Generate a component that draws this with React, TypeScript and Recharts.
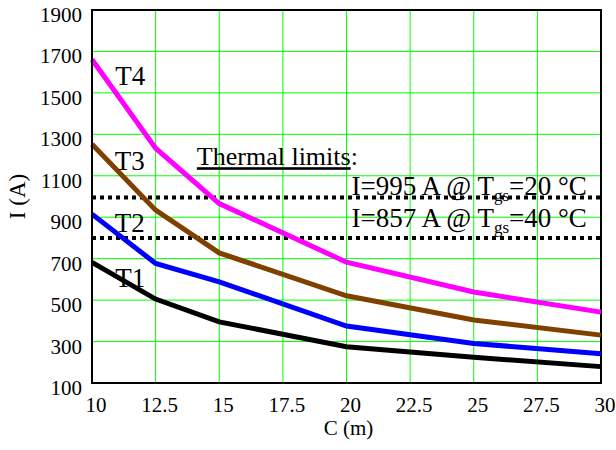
import {
  CartesianGrid,
  Line,
  LineChart,
  ReferenceArea,
  ReferenceDot,
  ReferenceLine,
  XAxis,
  YAxis,
} from "recharts"

const lengths = [10, 12.5, 15, 20, 25, 30]
const t1 = [682, 505, 395, 275, 224, 179]
const t2 = [915, 677, 588, 375, 291, 241]
const t3 = [1252, 934, 728, 521, 404, 331]
const t4 = [1661, 1233, 966, 683, 539, 442]

const xTicks = [10, 12.5, 15, 17.5, 20, 22.5, 25, 27.5, 30]
const yTicks = [100, 300, 500, 700, 900, 1100, 1300, 1500, 1700, 1900]

// drawn positions of the dotted limit lines, and their captions
const limitLines = [995, 800]
const limitTexts = [
  { amps: "995", temp: "20", x: 20.2, y: 1006 },
  { amps: "857", temp: "40", x: 20.2, y: 853 },
]

const seriesLabels = [
  { name: "T4", x: 11.5, y: 1586 },
  { name: "T3", x: 11.48, y: 1175 },
  { name: "T2", x: 11.48, y: 874 },
  { name: "T1", x: 11.5, y: 608 },
]

const data = lengths.map((c, i) => ({ c, t1: t1[i], t2: t2[i], t3: t3[i], t4: t4[i] }))

const FONT = "'Liberation Serif', 'Times New Roman', serif"

function XTick({ x, y, payload }: any) {
  return (
    <text x={x + 4} y={y + 29} textAnchor="middle" fontSize={21} fontFamily={FONT} fill="#000">
      {payload.value}
    </text>
  )
}

function YTick({ x, y, payload }: any) {
  return (
    <text x={x - 10} y={y + 12} textAnchor="end" fontSize={21} fontFamily={FONT} fill="#000">
      {payload.value}
    </text>
  )
}

export default function App() {
  return (
    <div style={{ position: "absolute", left: 0, top: 0, background: "#fff" }}>
      <LineChart width={616} height={450} data={data} margin={{ top: 10, right: 15, bottom: 0, left: 0 }}>
        <CartesianGrid stroke="#00ff00" strokeWidth={1} />
        <XAxis
          dataKey="c"
          type="number"
          domain={[10, 30]}
          ticks={xTicks}
          height={67}
          tickSize={0}
          tickMargin={0}
          tick={<XTick />}
          axisLine={{ stroke: "#000", strokeWidth: 2 }}
          label={{
            content: ({ viewBox }: any) => (
              <text
                x={viewBox.x + viewBox.width / 2 + 2}
                y={viewBox.y + 52}
                textAnchor="middle"
                fontSize={21}
                fontFamily={FONT}
                fill="#000"
              >
                C (m)
              </text>
            ),
          }}
        />
        <YAxis
          type="number"
          domain={[100, 1900]}
          ticks={yTicks}
          width={92}
          tickSize={0}
          tickMargin={0}
          tick={<YTick />}
          axisLine={{ stroke: "#000", strokeWidth: 2 }}
          label={{
            content: ({ viewBox }: any) => {
              const cx = 25
              const cy = viewBox.y + viewBox.height / 2
              return (
                <text
                  x={cx}
                  y={cy}
                  transform={`rotate(-90, ${cx}, ${cy})`}
                  textAnchor="middle"
                  fontSize={23}
                  fontFamily={FONT}
                  fill="#000"
                >
                  I (A)
                </text>
              )
            },
          }}
        />
        <ReferenceArea x1={10} x2={30} y1={100} y2={1900} fill="none" stroke="#000" strokeWidth={2} />
        {limitLines.map((v) => (
          <ReferenceLine key={v} y={v} stroke="#000" strokeWidth={4} strokeDasharray="4 4" />
        ))}
        <Line type="linear" dataKey="t1" stroke="#000000" strokeWidth={5} dot={false} isAnimationActive={false} />
        <Line type="linear" dataKey="t2" stroke="#0000ff" strokeWidth={5} dot={false} isAnimationActive={false} />
        <Line type="linear" dataKey="t3" stroke="#804000" strokeWidth={5} dot={false} isAnimationActive={false} />
        <Line type="linear" dataKey="t4" stroke="#ff00ff" strokeWidth={5} dot={false} isAnimationActive={false} />
        {seriesLabels.map((s) => (
          <ReferenceDot
            key={s.name}
            x={s.x}
            y={s.y}
            r={0}
            ifOverflow="visible"
            shape={(p: any) => (
              <text x={p.cx} y={p.cy} dy="0.35em" textAnchor="middle" fontSize={27} fontFamily={FONT} fill="#000">
                {s.name}
              </text>
            )}
          />
        ))}
        <ReferenceDot
          x={14.12}
          y={1151}
          r={0}
          ifOverflow="visible"
          shape={(p: any) => (
            <text x={p.cx} y={p.cy} fontSize={26} fontFamily={FONT} fill="#000">
              <tspan textDecoration="underline" style={{ textDecoration: "underline" }}>
                Thermal limits
              </tspan>
              <tspan>:</tspan>
            </text>
          )}
        />
        {limitTexts.map((t) => (
          <ReferenceDot
            key={t.amps}
            x={t.x}
            y={t.y}
            r={0}
            ifOverflow="visible"
            shape={(p: any) => (
              <text x={p.cx} y={p.cy} fontSize={27} fontFamily={FONT} fill="#000">
                {`I=${t.amps} A @ T`}
                <tspan fontSize={17} dy={6}>
                  gs
                </tspan>
                <tspan dy={-6}>{`=${t.temp} °C`}</tspan>
              </text>
            )}
          />
        ))}
      </LineChart>
    </div>
  )
}
